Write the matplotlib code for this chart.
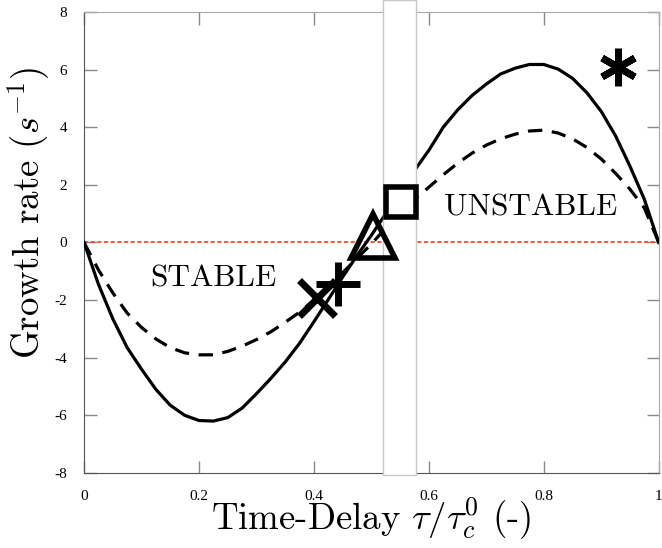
import numpy as np
import matplotlib
matplotlib.use('Agg')
import matplotlib.pyplot as plt
from matplotlib.patches import Rectangle

plt.rcParams['mathtext.fontset'] = 'cm'
plt.rcParams['axes.unicode_minus'] = False

# time delay tau / tau_c^0
tau = [0.0, 0.025, 0.05, 0.075, 0.1, 0.125, 0.15, 0.175, 0.2, 0.225,
       0.25, 0.275, 0.3, 0.325, 0.35, 0.375, 0.4, 0.425, 0.45, 0.475,
       0.5, 0.525, 0.55, 0.575, 0.6, 0.625, 0.65, 0.675, 0.7, 0.725,
       0.75, 0.775, 0.8, 0.825, 0.85, 0.875, 0.9, 0.925, 0.95, 0.975, 1.0]

# growth rate, solid curve
rate_solid = [0.0, -1.45, -2.65, -3.65, -4.4, -5.1, -5.65, -6.0, -6.18, -6.2,
              -6.08, -5.75, -5.25, -4.72, -4.15, -3.5, -2.75, -1.98, -1.2, -0.45,
              0.25, 1.0, 1.75, 2.5, 3.2, 4.0, 4.6, 5.1, 5.5, 5.85,
              6.05, 6.18, 6.18, 6.02, 5.7, 5.2, 4.55, 3.7, 2.65, 1.5, 0.0]

# growth rate, dashed curve
rate_dashed = [0.0, -0.95, -1.75, -2.45, -2.95, -3.35, -3.65, -3.83, -3.9, -3.9,
               -3.78, -3.6, -3.37, -3.1, -2.77, -2.42, -2.0, -1.55, -1.05, -0.55,
               -0.05, 0.5, 1.05, 1.5, 1.92, 2.35, 2.75, 3.1, 3.38, 3.6,
               3.76, 3.87, 3.9, 3.8, 3.6, 3.3, 2.9, 2.4, 1.85, 1.2, 0.0]

# single operating points
pt_x = (0.405, -1.91)
pt_plus = (0.442, -1.43)
pt_tri = (0.503, 0.21)
pt_sq = (0.551, 1.39)
pt_star = (0.929, 6.09)

xticks = [0, 0.2, 0.4, 0.6, 0.8, 1]
xticklabels = ['0', '0.2', '0.4', '0.6', '0.8', '1']
yticks = [-8, -6, -4, -2, 0, 2, 4, 6, 8]

fig = plt.figure(figsize=(6.62, 5.48), dpi=100)
ax = fig.add_axes([0.127, 0.137, 0.868, 0.841])

ax.axhline(0, color='#ff3b1f', lw=1.2, ls=(0, (2.5, 1.5)), zorder=2)
ax.plot(tau, rate_solid, color='black', lw=2.3, zorder=3)
ax.plot(tau, rate_dashed, color='black', lw=2.3, dashes=(4.5, 3), zorder=3)

# white gap band
ax.add_patch(Rectangle((0.521, -0.005), 0.056, 1.032, transform=ax.get_xaxis_transform(),
                       facecolor='white', edgecolor='#c8c8c8', lw=1, clip_on=False, zorder=4))

mk = dict(color='black', zorder=5, ls='none')
ax.plot(*pt_x, marker='x', ms=26, mew=5, **mk)
ax.plot(*pt_plus, marker='+', ms=31, mew=5, **mk)
ax.plot(*pt_tri, marker='^', ms=31, mew=4, mfc='none', **mk)
ax.plot(*pt_sq, marker='s', ms=21, mew=4, mfc='none', **mk)
ax.plot(*pt_star, marker=(6, 2, 0), ms=27, mew=5, **mk)

ax.text(0.225, -1.25, 'STABLE', fontfamily='cmr10', fontsize=22.5, ha='center', va='center', zorder=6)
ax.text(0.777, 1.2, 'UNSTABLE', fontfamily='cmr10', fontsize=22.5, ha='center', va='center', zorder=6)

ax.set_xlim(0, 1)
ax.set_ylim(-8, 8)
ax.set_xticks(xticks)
ax.set_xticklabels(xticklabels)
ax.set_yticks(yticks)
ax.tick_params(direction='in', length=9, width=1, color='#888888', top=True, right=True,
               labelsize=11, pad=12)
for lab in ax.get_xticklabels() + ax.get_yticklabels():
    lab.set_fontfamily('Liberation Serif')
for side in ['left', 'bottom']:
    ax.spines[side].set_color('#555555')
for side in ['top', 'right']:
    ax.spines[side].set_color('#aaaaaa')

ax.set_xlabel(r'Time-Delay $\tau/\tau_c^0$ (-)', fontfamily='cmr10', fontsize=26.5, labelpad=-5)
ax.set_ylabel(r'Growth rate $(s^{-1})$', fontfamily='cmr10', fontsize=26.5)
ax.yaxis.set_label_coords(-0.056, 0.565)

fig.savefig('out.png', dpi=100)
